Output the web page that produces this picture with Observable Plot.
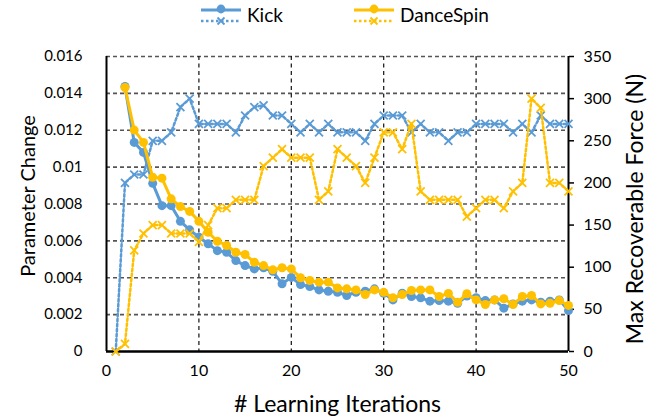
<!DOCTYPE html>
<html><head><meta charset="utf-8">
<script src="https://cdn.jsdelivr.net/npm/d3@7"></script>
<script src="https://cdn.jsdelivr.net/npm/@observablehq/plot@0.6"></script>
<style>
body{margin:0;background:#fff;font-family:Lato,sans-serif;}
#wrap{position:relative;width:663px;height:419px;overflow:hidden;}
#legend{position:relative;height:30px;}
.item{position:absolute;top:0;height:30px;display:flex;align-items:center;font-size:19px;color:#000;white-space:nowrap;}
.item span{margin-left:6px;line-height:30px;}
</style></head><body>
<div id="wrap"><div id="legend"></div><div id="chart"></div></div>
<script>
const iterations = [1,2,3,4,5,6,7,8,9,10,11,12,13,14,15,16,17,18,19,20,21,22,23,24,25,26,27,28,29,30,31,32,33,34,35,36,37,38,39,40,41,42,43,44,45,46,47,48,49,50];
const kickParam = [null,0.01437,0.01134,0.0108,0.00912,0.00791,0.00791,0.00706,0.0066,0.0062,0.00584,0.00547,0.00538,0.00493,0.00466,0.00448,0.00454,0.00435,0.00367,0.00402,0.00363,0.00352,0.00334,0.00327,0.00321,0.00304,0.00321,0.00327,0.0034,0.00316,0.0028,0.00316,0.00298,0.00291,0.00273,0.00276,0.00273,0.00262,0.00301,0.00292,0.00276,0.0028,0.00235,0.00258,0.00273,0.0028,0.00267,0.00273,0.0028,0.00222];
const danceParam = [null,0.01432,0.01201,0.01134,0.00945,0.0094,0.00828,0.00786,0.0076,0.00706,0.00647,0.00598,0.00575,0.00538,0.00526,0.00484,0.00466,0.00443,0.00454,0.00448,0.004,0.00385,0.00376,0.00376,0.00345,0.0034,0.00334,0.00309,0.00334,0.00321,0.00291,0.00309,0.00331,0.00334,0.00334,0.00298,0.00315,0.00267,0.00313,0.0028,0.00255,0.0028,0.00286,0.00255,0.00298,0.00304,0.00258,0.00262,0.00276,0.0025];
const kickForce = [0,200,210,210,250,250,260,290,300,270,270,270,270,260,280,290,292,280,280,270,260,270,260,270,260,260,260,250,270,280,280,280,260,270,260,260,250,260,260,270,270,270,270,260,270,260,280,270,270,270];
const danceForce = [0,9,120,140,150,150,140,140,140,130,150,170,170,180,180,180,220,230,240,230,230,230,180,190,240,230,220,200,230,260,260,240,270,190,180,180,180,180,160,170,180,180,170,190,200,300,289,200,200,190];

const seriesNames = ["Kick","DanceSpin"];
const colors = ["#5B9BD5","#FFC000"];
const paramTicks = [0,0.002,0.004,0.006,0.008,0.01,0.012,0.014,0.016];
const forceTicks = [0,50,100,150,200,250,300,350];
const xTicks = [0,10,20,30,40,50];
const yTitle = "Parameter Change";
const y2Title = "Max Recoverable Force (N)";
const xTitle = "# Learning Iterations";

const k = 0.016/350; // right axis maps 0..350 onto 0..0.016

const rows = iterations.map((it,i)=>({it, kickParam:kickParam[i], danceParam:danceParam[i], kickForce:kickForce[i], danceForce:danceForce[i]}));

// legend
const legendPos = [201, 354];
const legend = document.getElementById("legend");
seriesNames.forEach((name,i)=>{
  const c = colors[i];
  const div = document.createElement("div");
  div.className = "item";
  div.style.left = legendPos[i] + "px";
  div.innerHTML = `<svg width="40" height="30" style="display:block">
    <line x1="0" x2="40" y1="10" y2="10" stroke="${c}" stroke-width="3"/>
    <circle cx="20" cy="9" r="4.4" fill="${c}"/>
    <line x1="0" x2="40" y1="21" y2="21" stroke="${c}" stroke-width="2.5" stroke-dasharray="2.5,2.5"/>
    <path d="M16.5,17.5L23.5,24.5M23.5,17.5L16.5,24.5" stroke="${c}" stroke-width="1.8"/>
  </svg><span>${name}</span>`;
  legend.appendChild(div);
});

const blue = colors[0], orange = colors[1];
const chart = Plot.plot({
  width: 663,
  height: 389,
  marginLeft: 106,
  marginRight: 95,
  marginTop: 26,
  marginBottom: 68,
  style: {background: "white", color: "black", fontFamily: "Lato, sans-serif", fontSize: "16px", overflow: "visible"},
  x: {domain: [0, 50]},
  y: {domain: [0, 0.016]},
  marks: [
    Plot.gridY({ticks: paramTicks.filter(v=>v>0), stroke: "#555", strokeOpacity: 1, strokeWidth: 1.6, strokeDasharray: "4,3"}),
    Plot.gridX({ticks: [10,20,30,40], stroke: "#111", strokeOpacity: 1, strokeWidth: 1.2, strokeDasharray: "4,3.5"}),
    Plot.axisY({ticks: paramTicks, anchor: "left", tickSize: 0, tickPadding: 24, label: null, fontSize: 15,
      tickFormat: d => String(+d.toFixed(3))}),
    Plot.axisY({ticks: forceTicks.map(v => v*k), anchor: "right", tickSize: 5, tickPadding: 10, label: null, fontSize: 16,
      strokeWidth: 1.5, tickFormat: d => String(Math.round(d/k))}),
    Plot.axisX({ticks: xTicks, tickSize: 0, tickPadding: 13, label: null, fontSize: 16}),
    Plot.ruleX([0], {stroke: "black", strokeWidth: 2}),
    Plot.ruleX([50], {stroke: "black", strokeWidth: 2}),
    Plot.ruleY([0], {stroke: "black", strokeWidth: 2.5}),
    // Kick
    Plot.line(rows, {x: "it", y: d => d.kickForce*k, stroke: blue, strokeWidth: 2.5, strokeDasharray: "2.5,2.5"}),
    Plot.dot(rows, {x: "it", y: d => d.kickForce*k, symbol: "times", r: 3.7, stroke: blue, strokeWidth: 1.8}),
    Plot.line(rows, {x: "it", y: "kickParam", stroke: blue, strokeWidth: 3}),
    Plot.dot(rows, {x: "it", y: "kickParam", r: 4.5, fill: blue, stroke: "none"}),
    // DanceSpin
    Plot.line(rows, {x: "it", y: "danceParam", stroke: orange, strokeWidth: 3}),
    Plot.dot(rows, {x: "it", y: "danceParam", r: 4.5, fill: orange, stroke: "none"}),
    Plot.line(rows, {x: "it", y: d => d.danceForce*k, stroke: orange, strokeWidth: 2.5, strokeDasharray: "2.5,2.5"}),
    Plot.dot(rows, {x: "it", y: d => d.danceForce*k, symbol: "times", r: 3.7, stroke: orange, strokeWidth: 1.8}),
    // titles
    Plot.text([yTitle], {text: d => d, frameAnchor: "left", textAnchor: "middle", lineAnchor: "middle", dx: -78, dy: -8, rotate: -90, fontSize: 20}),
    Plot.text([y2Title], {text: d => d, frameAnchor: "right", textAnchor: "middle", lineAnchor: "middle", dx: 67, dy: 5, rotate: -90, fontSize: 23}),
    Plot.text([xTitle], {text: d => d, frameAnchor: "bottom", textAnchor: "middle", lineAnchor: "middle", dy: 53, fontSize: 23})
  ]
});
document.getElementById("chart").appendChild(chart);
</script>
</body></html>
